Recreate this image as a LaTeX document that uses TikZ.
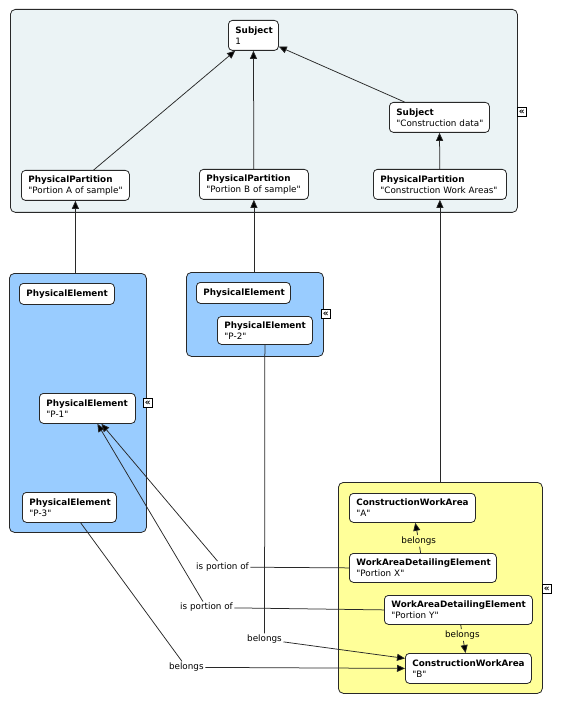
\documentclass[tikz,border=0pt]{standalone}
\usepackage{fontspec}
\newfontfamily\diagfont{DejaVu Sans}
\usetikzlibrary{arrows.meta}

\definecolor{topfill}{RGB}{235,243,245}
\definecolor{bluefill}{RGB}{153,204,255}
\definecolor{yellowfill}{RGB}{255,255,153}
\definecolor{edge}{RGB}{40,40,40}

\tikzset{
  group/.style={draw=edge, line width=0.8pt, rounded corners=5pt, anchor=north west, inner sep=0pt},
  elem/.style={draw=edge, line width=0.8pt, fill=white, rounded corners=4pt, anchor=north west,
    align=left, inner xsep=7pt, inner ysep=0pt, minimum height=30pt, text width=#1,
    font=\diagfont\fontsize{8.8}{11}\selectfont},
  rel/.style={inner sep=1.5pt, font=\diagfont\fontsize{8.8}{11}\selectfont},
  plain/.style={draw=edge, line width=0.75pt},
  link/.style={plain, -{Triangle[length=8pt,width=7pt,fill=black]}},
  collapse/.style={draw=black, fill=white, line width=0.6pt, minimum size=9pt, inner sep=0pt,
    anchor=north west, font=\diagfont\fontsize{9}{9}\selectfont\bfseries},
}

\begin{document}
\begin{tikzpicture}[x=1pt, y=-1pt]
\useasboundingbox (0,0) rectangle (563,708);

% groups
    \node[group, fill=topfill, minimum width=507pt, minimum height=203pt] (grpTop) at (10,9) {};
    \node[group, fill=bluefill, minimum width=137pt, minimum height=259pt] (grpL) at (9,273) {};
    \node[group, fill=bluefill, minimum width=137pt, minimum height=84pt] (grpM) at (186,272) {};
    \node[group, fill=yellowfill, minimum width=204pt, minimum height=211pt] (grpY) at (338,482) {};
% collapse marks
    \node[collapse] (colTop) at (517,107) {«};
    \node[collapse] (colL) at (143,398) {«};
    \node[collapse] (colM) at (321,309) {«};
    \node[collapse] (colY) at (542,584) {«};

% subjects and partitions
    \node[elem=36pt] (subj1) at (228,20) {\textbf{Subject}\\1};
    \node[elem=86pt] (subjCD) at (389,102) {\textbf{Subject}\\\mbox{"Construction data"}};
    \node[elem=94pt] (ppA) at (21,170) {\textbf{PhysicalPartition}\\\mbox{"Portion A of sample"}};
    \node[elem=95pt] (ppB) at (199,169) {\textbf{PhysicalPartition}\\\mbox{"Portion B of sample"}};
    \node[elem=119pt] (ppCWA) at (373,169) {\textbf{PhysicalPartition}\\\mbox{"Construction Work Areas"}};

% physical elements
    \node[elem=81pt, minimum height=21pt] (pe1) at (19,283) {\textbf{PhysicalElement}};
    \node[elem=80pt, minimum height=21pt] (pe2) at (196,282) {\textbf{PhysicalElement}};
    \node[elem=82pt] (p1) at (39,393) {\textbf{PhysicalElement}\\"P-1"};
    \node[elem=81pt, minimum height=28pt] (p2) at (217,316) {\textbf{PhysicalElement}\\"P-2"};
    \node[elem=80pt] (p3) at (22,492) {\textbf{PhysicalElement}\\"P-3"};

% work areas
    \node[elem=112pt, minimum height=29pt] (cwaA) at (349,493) {\textbf{ConstructionWorkArea}\\"A"};
    \node[elem=133pt, minimum height=29pt] (wadeX) at (349,553) {\textbf{WorkAreaDetailingElement}\\\mbox{"Portion X"}};
    \node[elem=134pt, minimum height=29pt] (wadeY) at (384,595) {\textbf{WorkAreaDetailingElement}\\\mbox{"Portion Y"}};
    \node[elem=112pt] (cwaB) at (405,653) {\textbf{ConstructionWorkArea}\\"B"};

% relation labels
    \node[rel] (lblBA) at (418.7,540.7) {belongs};
    \node[rel] (lblBB) at (462.3,635) {belongs};
    \node[rel] (lblPA) at (222.5,567) {is portion of};
    \node[rel] (lblPB) at (206.5,607.5) {is portion of};
    \node[rel] (lblBC) at (264.5,639.3) {belongs};
    \node[rel] (lblBD) at (186.3,667.3) {belongs};

% arrows inside the top group
    \draw[link] (ppA) -- (subj1);
    \draw[link] (ppB) -- (subj1);
    \draw[link] (subjCD) -- (subj1);
    \draw[link] (ppCWA) -- (subjCD);
% groups to partitions
    \draw[link] (grpL.north -| ppA.south) -- (ppA.south);
    \draw[link] (grpM.north -| ppB.south) -- (ppB.south);
    \draw[link] (grpY.north -| ppCWA.south) -- (ppCWA.south);

% belongs
    \draw[plain] (wadeX) -- (lblBA);
    \draw[link] (lblBA) -- (cwaA);
    \draw[plain] (wadeY) -- (lblBB);
    \draw[link] (lblBB) -- (cwaB);
    \draw[plain] (p2) -- (lblBC);
    \draw[link] (lblBC) -- ([yshift=10pt]cwaB.west);
    \draw[plain] (p3) -- (lblBD);
    \draw[link] (lblBD) -- (cwaB.west);
% is portion of
    \draw[plain] (wadeX.west) -- (lblPA);
    \draw[link] (lblPA) -- ([xshift=14pt]p1.south);
    \draw[plain] (wadeY.west) -- (lblPB);
    \draw[link] (lblPB) -- ([xshift=10pt]p1.south);

\end{tikzpicture}
\end{document}
